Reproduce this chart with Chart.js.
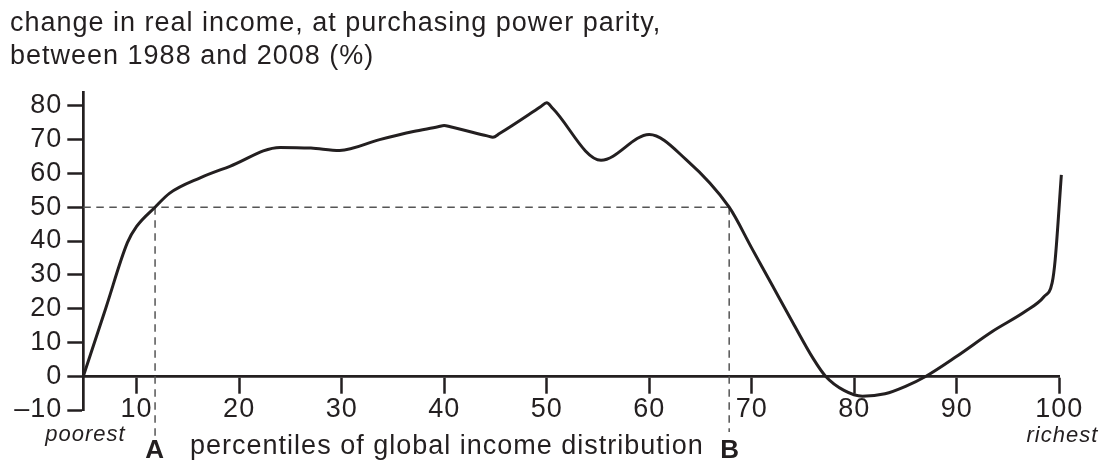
<!DOCTYPE html>
<html>
<head>
<meta charset="utf-8">
<script src="https://cdn.jsdelivr.net/npm/chart.js@4.4.1/dist/chart.umd.min.js"></script>
<style>
  html, body { margin: 0; padding: 0; background: #ffffff; }
  #wrap { position: relative; width: 1105px; height: 462px; }
</style>
</head>
<body>
<div id="wrap"><canvas id="c"></canvas></div>
<script>
// ---- data ----
const titleLines = ['change in real income, at purchasing power parity,', 'between 1988 and 2008 (%)'];
const axisTitle = 'percentiles of global income distribution';
const lowLabel = 'poorest';
const highLabel = 'richest';
const percentiles = [4.8, 7.0, 9.1, 10.0, 11.8, 13.2, 16.2, 19.1, 24.0, 27.0, 29.8, 33.7, 37.0, 39.4, 40.0, 40.6, 44.2, 44.75, 45.4, 49.4, 50.0, 50.6, 55.3, 60.0, 63.6, 67.8, 70.0, 72.0, 74.0, 76.0, 77.2, 79.0, 80.8, 83.0, 85.0, 87.0, 90.0, 93.5, 96.7, 98.5, 99.3, 99.6, 100.2];
const incomeChange = [0, 20.2, 39.5, 44.3, 50.0, 54.1, 58.7, 62.1, 67.7, 67.5, 66.8, 70.0, 72.4, 73.8, 74.2, 73.8, 71.1, 70.7, 71.8, 79.7, 80.9, 79.2, 63.9, 71.5, 64.1, 50.0, 37.9, 26.9, 15.9, 5.2, 0, -4.2, -5.9, -5.2, -3.0, 0, 5.9, 13.3, 19.2, 23.5, 27.6, 34.5, 59.6];
const xTicks = [10, 20, 30, 40, 50, 60, 70, 80, 90, 100];
const yTicks = [-10, 0, 10, 20, 30, 40, 50, 60, 70, 80];
const xRange = [4.8, 100];
const yRange = [-10, 84];
const refLevel = 50;
const markerA = 11.8;
const markerB = 67.8;
const markerLabels = ['A', 'B'];
const markerDrop = [-18.5, -16.5];

// ---- styles ----
const INK = '#231f20';
const DASH = '#555555';
const FONT = "'Liberation Sans', Arial, Helvetica, sans-serif";

const spacingPlugin = {
  id: 'spacing',
  beforeUpdate(chart) { chart.ctx.letterSpacing = '1px'; },
  beforeLayout(chart) { chart.ctx.letterSpacing = '1px'; },
  beforeDraw(chart) { chart.ctx.letterSpacing = '1px'; }
};

const labelPlugin = {
  id: 'extraLabels',
  afterDraw(chart) {
    const ctx = chart.ctx;
    const xs = chart.scales.x;
    ctx.save();
    ctx.letterSpacing = '1px';
    ctx.fillStyle = INK;
    ctx.textBaseline = 'alphabetic';
    ctx.font = 'italic 22px ' + FONT;
    ctx.textAlign = 'left';
    ctx.fillText(lowLabel, xs.left - 38, 441);
    ctx.textAlign = 'right';
    ctx.fillText(highLabel, xs.right + 39, 441.5);
    ctx.font = 'bold 26px ' + FONT;
    ctx.textAlign = 'center';
    ctx.fillText(markerLabels[0], xs.getPixelForValue(markerA), 458);
    ctx.fillText(markerLabels[1], xs.getPixelForValue(markerB) + 1, 458);
    ctx.font = '27px ' + FONT;
    ctx.textAlign = 'left';
    ctx.fillText(axisTitle, xs.getPixelForValue(markerA) + 35, 454);
    ctx.restore();
  }
};

const curve = percentiles.map((p, i) => ({ x: p, y: incomeChange[i] }));
const dashStyle = {
  borderColor: DASH, borderWidth: 1.5, borderDash: [7.5, 5.5],
  pointRadius: 0, tension: 0, clip: false, fill: false
};

new Chart(document.getElementById('c'), {
  type: 'line',
  data: {
    datasets: [
      { data: curve, borderColor: INK, borderWidth: 3, pointRadius: 0,
        cubicInterpolationMode: 'monotone', clip: false, fill: false },
      Object.assign({ data: [{ x: xRange[0], y: refLevel }, { x: markerB, y: refLevel }] }, dashStyle),
      Object.assign({ data: [{ x: markerA, y: refLevel }, { x: markerA, y: markerDrop[0] }] }, dashStyle),
      Object.assign({ data: [{ x: markerB, y: refLevel }, { x: markerB, y: markerDrop[1] }] }, dashStyle)
    ]
  },
  options: {
    responsive: true,
    maintainAspectRatio: false,
    animation: false,
    events: [],
    layout: { padding: { left: 10, right: 45.7, top: 0, bottom: 52 } },
    plugins: {
      legend: { display: false },
      tooltip: { enabled: false },
      title: {
        display: true,
        text: titleLines,
        align: 'start',
        color: INK,
        font: { family: FONT, size: 27, weight: 'normal', lineHeight: '33px' },
        padding: { top: 7, bottom: 19.3 }
      }
    },
    scales: {
      x: {
        type: 'linear',
        position: { y: 0 },
        min: xRange[0],
        max: xRange[1],
        afterBuildTicks(scale) { scale.ticks = xTicks.map(v => ({ value: v })); },
        border: { display: true, color: INK, width: 2.7 },
        grid: { display: true, drawOnChartArea: false, drawTicks: true, tickLength: 16, tickWidth: 2.5, tickColor: INK },
        ticks: { color: INK, padding: 1, autoSkip: false, maxRotation: 0, font: { family: FONT, size: 27 } }
      },
      y: {
        type: 'linear',
        position: 'left',
        min: yRange[0],
        max: yRange[1],
        afterBuildTicks(scale) { scale.ticks = yTicks.map(v => ({ value: v })); },
        afterFit(scale) { scale.width = 73.3; },
        border: { display: true, color: INK, width: 2.7 },
        grid: { display: true, drawOnChartArea: false, drawTicks: true, tickLength: 16, tickWidth: 2.5, tickColor: INK },
        ticks: {
          color: INK, padding: 5, autoSkip: false, font: { family: FONT, size: 27 },
          callback: v => String(v).replace('-', '\u2013')
        }
      }
    }
  },
  plugins: [spacingPlugin, labelPlugin]
});
</script>
</body>
</html>
